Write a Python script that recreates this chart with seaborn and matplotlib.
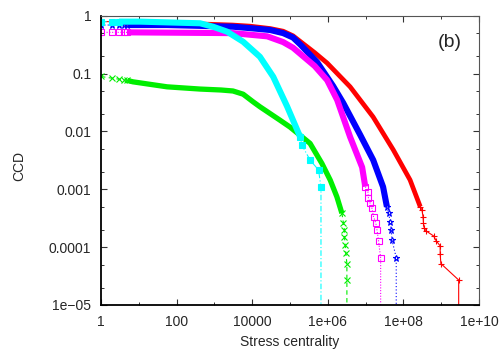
import matplotlib
matplotlib.use("Agg")
import matplotlib.pyplot as plt
import numpy as np
import pandas as pd
import seaborn as sns
from matplotlib.ticker import FixedLocator, NullFormatter, FixedFormatter

# values (x = stress centrality, y = CCD)
# the last point of each series sits below the axis: the curve drops out of view there
red_x = [1, 2, 3, 4, 5, 50, 417, 3000, 8700, 3e4, 6.6e4, 1.2e5, 1.86e5, 4.5e5, 9.6e5, 3.9e6,
         1.58e7, 5.4e7, 1.5e8, 2.79e8, 3.1e8, 3.3e8, 3.4e8, 3.56e8, 4.0e8, 6.3e8,
         7.4e8, 9.4e8, 9.4e8, 9.8e8, 2.9e9, 2.9e9]
red_y = [0.79, 0.79, 0.785, 0.78, 0.775, 0.75, 0.72, 0.69, 0.66, 0.60, 0.54, 0.45, 0.36, 0.23,
         0.152, 0.059, 0.0178, 0.0048, 0.00145, 5.0e-4, 4.4e-4, 3.36e-4, 2.58e-4,
         2.12e-4, 1.9e-4, 1.56e-4, 1.28e-4, 1.05e-4, 7.6e-5, 5.2e-5, 2.7e-5, 1e-6]

green_x = [1, 2, 3, 4, 5, 7, 56, 417, 1500, 3100, 5760, 1.05e4, 1.6e4, 5.3e4, 1.0e5, 3.4e5,
           6.97e5, 1.16e6, 1.74e6, 2.36e6, 2.6e6, 2.76e6, 2.76e6, 2.88e6, 3.0e6, 3.2e6,
           3.2e6, 3.2e6]
green_y = [0.089, 0.083, 0.080, 0.078, 0.076, 0.072, 0.059, 0.054, 0.052, 0.050, 0.044,
           0.0326, 0.0267, 0.0158, 0.0119, 0.0062, 0.0028, 0.00144, 7.4e-4, 3.85e-4,
           2.58e-4, 1.98e-4, 1.5e-4, 1.09e-4, 7.8e-5, 5.2e-5, 2.7e-5, 1e-6]

blue_x = [1, 2, 3, 4, 5, 56, 3100, 8700, 3e4, 6.6e4, 1.2e5, 1.86e5, 5.2e5, 1.38e6, 2.56e6,
          7.2e6, 1.59e7, 2.9e7, 3.66e7, 4.05e7, 4.5e7, 4.77e7, 4.98e7, 6.46e7, 6.46e7]
blue_y = [0.69, 0.69, 0.69, 0.69, 0.69, 0.69, 0.646, 0.61, 0.566, 0.50, 0.42, 0.32, 0.158,
          0.061, 0.031, 0.0087, 0.0032, 0.0011, 5.0e-4, 3.85e-4, 2.75e-4, 1.98e-4,
          1.33e-4, 6.6e-5, 1e-6]

magenta_x = [1, 2, 3, 4, 5, 3100, 2.5e4, 6.6e4, 1.2e5, 1.86e5, 4.5e5, 9.6e5, 1.77e6,
             3.9e6, 8.1e6, 9.8e6, 1.15e7, 1.19e7, 1.32e7, 1.47e7, 1.62e7, 1.87e7, 2.0e7,
             2.2e7, 2.5e7, 2.5e7]
magenta_y = [0.516, 0.516, 0.516, 0.516, 0.516, 0.50, 0.44, 0.35, 0.28, 0.22, 0.135, 0.077,
             0.035, 0.0080, 0.0024, 1.11e-3, 9.1e-4, 7.0e-4, 5.7e-4, 4.7e-4, 3.36e-4,
             2.58e-4, 1.98e-4, 1.29e-4, 6.5e-5, 1e-6]

cyan_x = [1, 2, 3, 10.8, 417, 923, 2170, 5760, 1.6e4, 3.6e4, 8.4e4, 1.55e5, 1.85e5,
          2.06e5, 3.4e5, 5.7e5, 6.6e5, 6.6e5]
cyan_y = [0.79, 0.79, 0.79, 0.79, 0.74, 0.645, 0.53, 0.355, 0.195, 0.088, 0.027, 0.0106,
          0.0081, 0.0058, 0.0032, 0.00215, 0.00108, 1e-6]

xtick_vals = [1, 1e2, 1e4, 1e6, 1e8, 1e10]
xtick_labels = ["1", "100", "10000", "1e+06", "1e+08", "1e+10"]
ytick_vals = [1e-5, 1e-4, 1e-3, 1e-2, 1e-1, 1]
ytick_labels = ["1e\u221205", "0.0001", "0.001", "0.01", "0.1", "1"]

# style per series: colour, marker, filled?, line style, band width, x range drawn as dense band
series = [
    (red_x, red_y, "#ff0000", "+", False, "-", 3.4, (5, 2.79e8)),
    (green_x, green_y, "#00ee00", "x", False, (0, (4, 3)), 3.8, (5, 2.36e6)),
    (blue_x, blue_y, "#0000ff", "*", False, (0, (1, 2)), 4.4, (5, 3.66e7)),
    (magenta_x, magenta_y, "#ff00ff", "s", False, (0, (1, 1.5)), 4.4, (5, 9.8e6)),
    (cyan_x, cyan_y, "#00ffff", "s", True, (0, (5, 2, 1, 2)), 4.4, (3, 1.85e5)),
]

sns.set_style("ticks")
plt.rcParams["font.family"] = ["Liberation Sans", "DejaVu Sans"]
plt.rcParams["font.size"] = 10

fig = plt.figure(figsize=(5, 3.5), dpi=100)
ax = fig.add_axes([0.202, 0.1286, 0.756, 0.8265])
ax.set_xscale("log")
ax.set_yscale("log")

for xs, ys, col, mk, filled, ls, bw, (lo, hi) in series:
    df = pd.DataFrame({"x": xs, "y": ys})
    # thin connecting line through every point
    sns.lineplot(data=df, x="x", y="y", ax=ax, sort=False, estimator=None,
                 color=col, linewidth=0.8, linestyle=ls)
    # separate markers where the data is sparse
    sparse = df[(df.x <= lo) | (df.x >= hi)]
    sns.lineplot(data=sparse, x="x", y="y", ax=ax, sort=False, estimator=None,
                 color=col, linestyle="none", marker=mk,
                 markersize=4.5 if mk != "s" else 4,
                 markerfacecolor=col if filled else "none",
                 markeredgecolor=col, markeredgewidth=0.8)
    # dense run of markers, drawn as a thick band
    band = df[(df.x >= lo) & (df.x <= hi)]
    sns.lineplot(data=band, x="x", y="y", ax=ax, sort=False, estimator=None,
                 color=col, linewidth=bw, solid_capstyle="butt", solid_joinstyle="round")

ax.set_xlim(1, 1e10)
ax.set_ylim(1e-5, 1)

ax.xaxis.set_major_locator(FixedLocator(xtick_vals))
ax.xaxis.set_major_formatter(FixedFormatter(xtick_labels))
ax.xaxis.set_minor_locator(FixedLocator([10, 1e3, 1e5, 1e7, 1e9]))
ax.xaxis.set_minor_formatter(NullFormatter())
ax.yaxis.set_major_locator(FixedLocator(ytick_vals))
ax.yaxis.set_major_formatter(FixedFormatter(ytick_labels))
minors = [m * d for d in [1e-5, 1e-4, 1e-3, 1e-2, 1e-1] for m in (2, 5)]
ax.yaxis.set_minor_locator(FixedLocator(minors))
ax.yaxis.set_minor_formatter(NullFormatter())

ax.tick_params(which="both", direction="in", top=True, right=True, color="#333333")
ax.tick_params(which="major", length=4, width=0.8, pad=7, labelsize=10)
ax.tick_params(which="minor", length=2.5, width=0.7)

for side in ["left", "bottom"]:
    ax.spines[side].set_linewidth(1.3)
    ax.spines[side].set_color("black")
for side in ["top", "right"]:
    ax.spines[side].set_linewidth(0.8)
    ax.spines[side].set_color("#555555")

ax.set_xlabel("Stress centrality", fontsize=10)
ax.set_ylabel("CCD", fontsize=10)
ax.xaxis.set_label_coords(0.5, -0.104)
ax.yaxis.set_label_coords(-0.198, 0.48)

ax.text(0.923, 0.907, "(b)", transform=ax.transAxes, fontsize=14,
        ha="center", va="center")

fig.savefig("out.png", dpi=100)
